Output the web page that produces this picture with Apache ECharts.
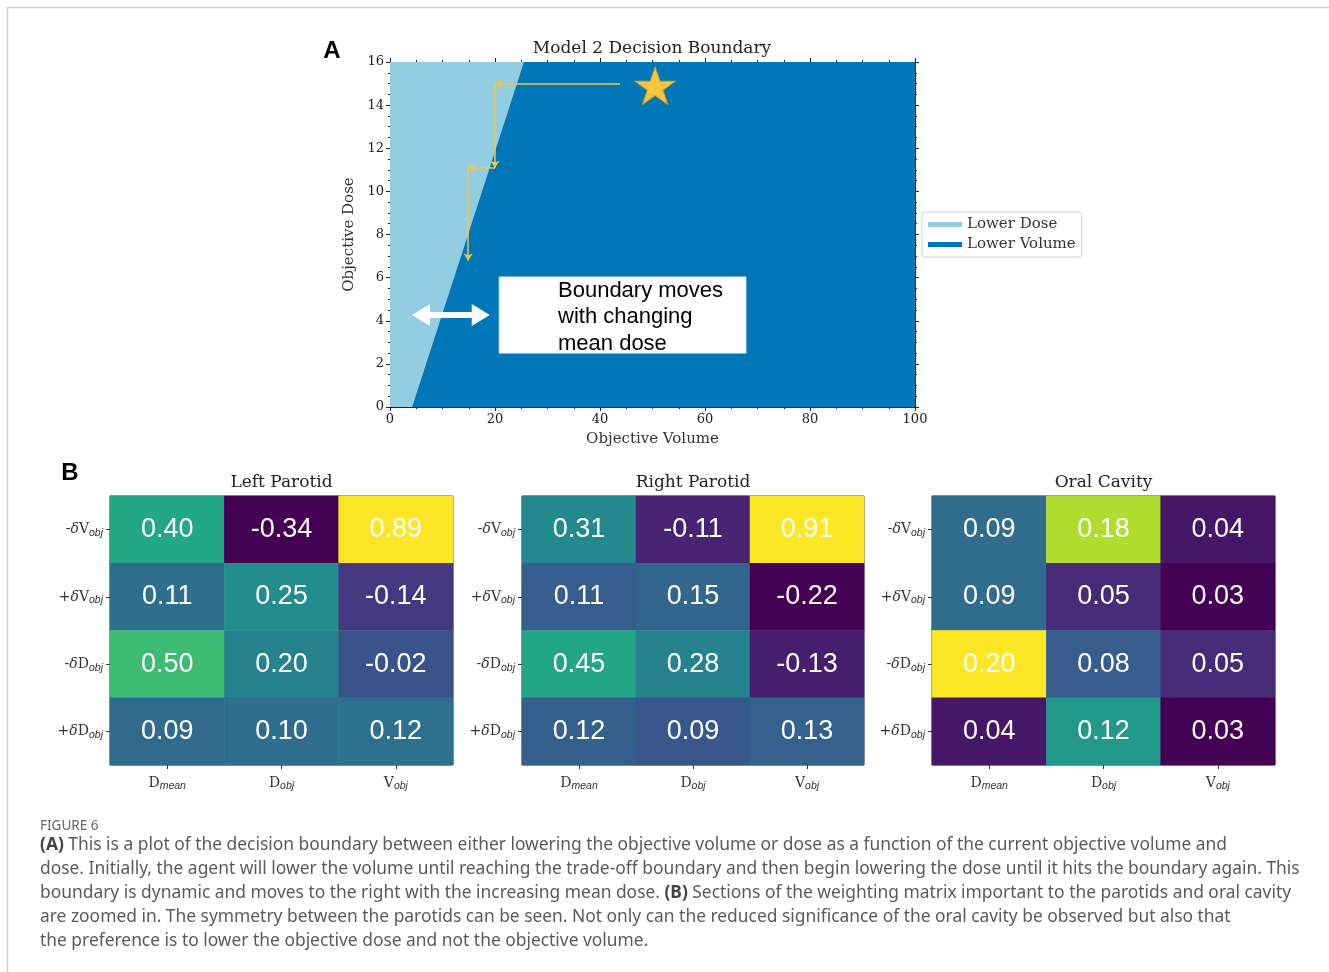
<!DOCTYPE html>
<html><head><meta charset="utf-8">
<script src="https://cdn.jsdelivr.net/npm/echarts@6/dist/echarts.min.js"></script>
<style>html,body{margin:0;padding:0;background:#fff}#c{width:1329px;height:972px}</style>
</head><body><div id="c"></div>
<script>
// ---------- Panel A data ----------
const xTicks = [0, 20, 40, 60, 80, 100];
const yTicks = [0, 2, 4, 6, 8, 10, 12, 14, 16];
const lowerDoseRegion = [[0, 0], [4.2, 0], [25.5, 16], [0, 16]];
const lowerVolumeRegion = [[4.2, 0], [100, 0], [100, 16], [25.5, 16]];
const agentPath = [
  [[43.8, 15.0], [20.0, 15.0]],
  [[20.0, 15.0], [20.0, 11.1]],
  [[20.0, 11.1], [14.9, 11.1]],
  [[14.9, 11.1], [14.9, 6.8]]
];
const startPoint = [50.5, 14.9];
const noteBox = [[20.8, 6.03], [67.8, 2.5]];
const noteTextAnchor = [32.0, 4.16];
const noteLines = ['Boundary moves', 'with changing', 'mean dose'];
const shiftArrow = [[4.2, 4.27], [19.0, 4.27]];

// ---------- Panel B data ----------
const colCats = ['Dmean', 'Dobj', 'Vobj'];
const rowCats = ['-δVobj', '+δVobj', '-δDobj', '+δDobj'];
const leftParotid = [
  [0.40, -0.34, 0.89],
  [0.11, 0.25, -0.14],
  [0.50, 0.20, -0.02],
  [0.09, 0.10, 0.12]
];
const rightParotid = [
  [0.31, -0.11, 0.91],
  [0.11, 0.15, -0.22],
  [0.45, 0.28, -0.13],
  [0.12, 0.09, 0.13]
];
const oralCavity = [
  [0.09, 0.18, 0.04],
  [0.09, 0.05, 0.03],
  [0.20, 0.08, 0.05],
  [0.04, 0.12, 0.03]
];
const panelTitles = ['Left Parotid', 'Right Parotid', 'Oral Cavity'];
const captionLines = [
  '{b|(A)} This is a plot of the decision boundary between either lowering the objective volume or dose as a function of the current objective volume and',
  'dose. Initially, the agent will lower the volume until reaching the trade-off boundary and then begin lowering the dose until it hits the boundary again. This',
  'boundary is dynamic and moves to the right with the increasing mean dose. {b|(B)} Sections of the weighting matrix important to the parotids and oral cavity',
  'are zoomed in. The symmetry between the parotids can be seen. Not only can the reduced significance of the oral cavity be observed but also that',
  'the preference is to lower the objective dose and not the objective volume.'
];

const viridis = ['#440154','#482475','#414487','#355f8d','#2a788e','#21918c','#22a884','#44bf70','#7ad151','#bddf26','#fde725'];
const SERIF = '"DejaVu Serif", serif';
const SANS = '"Liberation Sans", Arial, sans-serif';

function toHeat(m) {
  const out = [];
  m.forEach((row, r) => row.forEach((v, c) => out.push([c, r, v])));
  return out;
}
function flat(m) { return [].concat(...m); }

const chart = echarts.init(document.getElementById('c'), null, {renderer: 'canvas'});

const heatGrids = [
  {left: 110, top: 496, width: 343, height: 269},
  {left: 522, top: 496, width: 342, height: 269},
  {left: 932, top: 496, width: 343, height: 269}
];
const heatData = [leftParotid, rightParotid, oralCavity];

const subRich = {
  b: {fontFamily: SERIF, fontSize: 14, color: '#333'},
  d: {fontFamily: SERIF, fontSize: 14, color: '#333', fontStyle: 'italic'},
  s: {fontFamily: SANS, fontSize: 10.5, color: '#333', fontStyle: 'italic', padding: [7, 0, 0, 0]}
};
function fmtCol(v) { return '{b|' + v[0] + '}{s|' + v.slice(1) + '}'; }
function fmtRow(v) { return '{b|' + v[0] + '}{d|δ}{b|' + v[2] + '}{s|' + v.slice(3) + '}'; }

const axisTextA = {fontFamily: SERIF, fontSize: 13, color: '#222'};

const xAxes = [
  {gridIndex: 0, type: 'value', min: 0, max: 100, interval: 20,
   axisLine: {show: true, onZero: false, lineStyle: {color: '#222'}},
   axisTick: {show: true, length: 4, lineStyle: {color: '#222'}},
   minorTick: {show: true, splitNumber: 4, length: 2, lineStyle: {color: '#222'}},
   splitLine: {show: false},
   axisLabel: Object.assign({margin: 6}, axisTextA),
   name: 'Objective Volume', nameLocation: 'middle', nameGap: 25,
   nameTextStyle: {fontFamily: SERIF, fontSize: 15, color: '#333'}},
  {gridIndex: 0, type: 'value', position: 'top', min: 0, max: 100, interval: 20,
   axisLine: {show: true, onZero: false, lineStyle: {color: '#222'}},
   axisTick: {show: true, length: 4, lineStyle: {color: '#222'}},
   minorTick: {show: true, splitNumber: 4, length: 2, lineStyle: {color: '#222'}},
   splitLine: {show: false}, axisLabel: {show: false}}
];
const yAxes = [
  {gridIndex: 0, type: 'value', min: 0, max: 16, interval: 2,
   axisLine: {show: true, onZero: false, lineStyle: {color: '#222'}},
   axisTick: {show: true, length: 4, lineStyle: {color: '#222'}},
   minorTick: {show: true, splitNumber: 4, length: 2, lineStyle: {color: '#222'}},
   splitLine: {show: false},
   axisLabel: Object.assign({margin: 6}, axisTextA),
   name: 'Objective Dose', nameLocation: 'middle', nameGap: 33,
   nameTextStyle: {fontFamily: SERIF, fontSize: 15, color: '#333'}},
  {gridIndex: 0, type: 'value', position: 'right', min: 0, max: 16, interval: 2,
   axisLine: {show: true, onZero: false, lineStyle: {color: '#222'}},
   axisTick: {show: true, length: 4, lineStyle: {color: '#222'}},
   minorTick: {show: true, splitNumber: 4, length: 2, lineStyle: {color: '#222'}},
   splitLine: {show: false}, axisLabel: {show: false}}
];
heatGrids.forEach((g, i) => {
  xAxes.push({gridIndex: i + 1, type: 'category', data: colCats,
    axisLine: {show: false}, axisTick: {show: true, alignWithLabel: true, length: 4, lineStyle: {color: '#333'}},
    splitLine: {show: false}, splitArea: {show: false},
    axisLabel: {margin: 9, formatter: fmtCol, rich: subRich}});
  yAxes.push({gridIndex: i + 1, type: 'category', data: rowCats, inverse: true,
    axisLine: {show: false}, axisTick: {show: true, alignWithLabel: true, length: 4, lineStyle: {color: '#333'}},
    splitLine: {show: false}, splitArea: {show: false},
    axisLabel: {margin: 7, formatter: fmtRow, rich: subRich}});
});

function polySeries(name, pts, color) {
  return {
    name: name, type: 'custom', xAxisIndex: 0, yAxisIndex: 0, z: 1,
    itemStyle: {color: color},
    data: [0],
    renderItem: function (params, api) {
      return {type: 'polygon', shape: {points: pts.map(p => api.coord(p))}, style: {fill: color}, silent: true};
    }
  };
}

const series = [
  polySeries('Lower Dose', lowerDoseRegion, '#92cde2'),
  polySeries('Lower Volume', lowerVolumeRegion, '#0077b8'),
  {
    type: 'custom', xAxisIndex: 0, yAxisIndex: 0, z: 3, data: [0], silent: true,
    renderItem: function (params, api) {
      const a = api.coord(noteBox[0]), b = api.coord(noteBox[1]);
      const t = api.coord(noteTextAnchor);
      return {type: 'group', children: [
        {type: 'rect', shape: {x: a[0], y: a[1], width: b[0] - a[0], height: b[1] - a[1]}, style: {fill: '#ffffff', stroke: '#e0e8f0', lineWidth: 1}},
        {type: 'text', x: t[0], y: t[1], style: {text: noteLines.join('\n'), font: '22px "Liberation Sans", Arial, sans-serif', fill: '#000', lineHeight: 26.5, align: 'left', verticalAlign: 'middle'}}
      ]};
    }
  },
  {
    type: 'custom', xAxisIndex: 0, yAxisIndex: 0, z: 3, data: [0], silent: true,
    renderItem: function (params, api) {
      const a = api.coord(shiftArrow[0]), b = api.coord(shiftArrow[1]);
      const y = a[1], hl = 18, hh = 11, sh = 3;
      const pts = [
        [a[0], y], [a[0] + hl, y - hh], [a[0] + hl, y - sh], [b[0] - hl, y - sh], [b[0] - hl, y - hh],
        [b[0], y], [b[0] - hl, y + hh], [b[0] - hl, y + sh], [a[0] + hl, y + sh], [a[0] + hl, y + hh]
      ];
      return {type: 'polygon', shape: {points: pts}, style: {fill: '#ffffff'}};
    }
  },
  {
    type: 'lines', coordinateSystem: 'cartesian2d', xAxisIndex: 0, yAxisIndex: 0, z: 4, silent: true,
    symbol: ['none', 'arrow'], symbolSize: 7,
    lineStyle: {color: '#f5c542', width: 1.5, opacity: 1},
    data: agentPath.map(s => ({coords: s}))
  },
  {
    type: 'scatter', xAxisIndex: 0, yAxisIndex: 0, z: 5, silent: true,
    symbol: 'path://M50,0 L61.8,35.1 L98.8,35.1 L68.9,56.9 L80.3,91.9 L50,70.2 L19.7,91.9 L31.1,56.9 L1.2,35.1 L38.2,35.1 Z',
    symbolSize: [40, 37],
    itemStyle: {color: '#fbc53d', borderColor: '#d9a520', borderWidth: 1, opacity: 1},
    data: [startPoint]
  }
];
heatData.forEach((m, i) => {
  series.push({
    type: 'heatmap', xAxisIndex: i + 2, yAxisIndex: i + 2, data: toHeat(m),
    label: {show: true, color: '#fff', fontFamily: SANS, fontSize: 27, formatter: p => p.value[2].toFixed(2)},
    itemStyle: {borderWidth: 0},
    emphasis: {disabled: true}
  });
});

const visualMaps = heatData.map((m, i) => ({
  show: false, seriesIndex: 6 + i, dimension: 2,
  min: Math.min(...flat(m)), max: Math.max(...flat(m)),
  inRange: {color: viridis}
}));

const graphics = [
  {type: 'polyline', shape: {points: [[7.5, 972], [7.5, 7.5], [1329, 7.5]]}, style: {stroke: '#cfcfcf', lineWidth: 1.5, fill: null}, silent: true},
  {type: 'text', x: 332, y: 51, style: {text: 'A', font: 'bold 24px "Liberation Sans", Arial, sans-serif', fill: '#000', align: 'center', verticalAlign: 'middle'}},
  {type: 'text', x: 70, y: 473, style: {text: 'B', font: 'bold 24px "Liberation Sans", Arial, sans-serif', fill: '#000', align: 'center', verticalAlign: 'middle'}},
  {type: 'text', x: 652, y: 49, style: {text: 'Model 2 Decision Boundary', font: '17px "DejaVu Serif", serif', fill: '#222', align: 'center', verticalAlign: 'middle'}},
  {type: 'text', x: 40, y: 826, style: {text: 'FIGURE 6', font: '13.5px "Noto Sans", sans-serif', fill: '#666', align: 'left', verticalAlign: 'middle'}}
];
heatGrids.forEach((g, i) => {
  graphics.push({type: 'text', x: g.left + g.width / 2, y: 483, style: {text: panelTitles[i], font: '17px "DejaVu Serif", serif', fill: '#222', align: 'center', verticalAlign: 'middle'}});
});
captionLines.forEach((line, i) => {
  graphics.push({type: 'text', x: 40, y: 845 + i * 24, style: {
    text: line, font: '17.4px "Noto Sans", sans-serif', fill: '#5a5a5a', align: 'left', verticalAlign: 'middle',
    rich: {b: {fontFamily: '"Noto Sans", sans-serif', fontSize: 17.4, fontWeight: 'bold', fill: '#444', color: '#444'}}
  }});
});

chart.setOption({
  animation: false,
  backgroundColor: '#ffffff',
  grid: [{left: 390, top: 62, width: 525, height: 345, show: false}].concat(heatGrids.map(g => Object.assign({show: true, borderColor: '#333', borderWidth: 1, backgroundColor: 'transparent'}, g))),
  legend: {
    data: ['Lower Dose', 'Lower Volume'], orient: 'vertical', left: 922, top: 212,
    icon: 'rect', itemWidth: 34, itemHeight: 5, itemGap: 5,
    borderColor: '#d0d0d0', borderWidth: 1, borderRadius: 3, padding: [5, 6, 5, 6],
    textStyle: {fontFamily: SERIF, fontSize: 15, color: '#333'}, selectedMode: false
  },
  xAxis: xAxes, yAxis: yAxes,
  visualMap: visualMaps,
  series: series,
  graphic: graphics
});
</script></body></html>
